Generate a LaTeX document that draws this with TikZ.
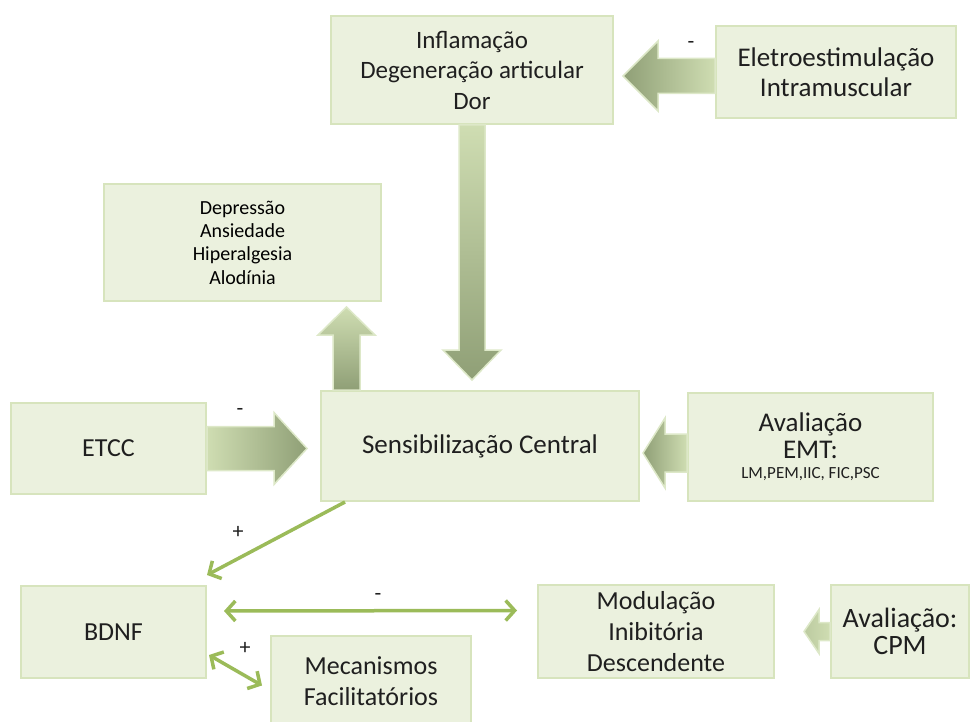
\documentclass[tikz,border=0pt]{standalone}
\usepackage{fontspec}
\setmainfont{Carlito}
\usetikzlibrary{arrows.meta,calc}
\definecolor{boxfill}{HTML}{EBF1DE}
\definecolor{boxline}{HTML}{D7E4BD}
\definecolor{arrdark}{HTML}{8F9F76}
\definecolor{arrlight}{HTML}{CFDDB2}
\definecolor{arredge}{HTML}{DDE8C8}
\definecolor{thingreen}{HTML}{9BBB59}
\begin{document}
\begin{tikzpicture}[x=1pt,y=-1pt,
  box/.style={draw=boxline, line width=2pt, fill=boxfill, anchor=north west, align=center, inner sep=0pt, font=\fontsize{26}{31}\selectfont, text=black!88},
  blk/.style={draw=arredge, line width=1.5pt, line join=miter},
  thinarr/.style={draw=thingreen, line width=3.5pt, -{Straight Barb[length=9pt,width=20pt]}},
  thinboth/.style={draw=thingreen, line width=3.5pt, {Straight Barb[length=9pt,width=20pt]}-{Straight Barb[length=9pt,width=20pt]}},
  sign/.style={font=\fontsize{22}{22}\selectfont, inner sep=0pt, text=black!88}]
\useasboundingbox (0,0) rectangle (971,722);

% boxes
\node[box, minimum width=282pt, minimum height=108pt, font=\fontsize{25}{30.5}\selectfont] (infl) at (330,15) {Inflamação\\Degeneração articular\\Dor};
\node[box, minimum width=240pt, minimum height=92pt, font=\fontsize{27}{30}\selectfont] (elet) at (715,25) {Eletroestimulação\\Intramuscular};
\node[box, minimum width=277pt, minimum height=117pt, font=\fontsize{20}{23.3}\selectfont, text=black] (dep) at (103,183) {Depressão\\Ansiedade\\Hiperalgesia\\Alodínia};
\node[box, minimum width=195pt, minimum height=91pt] (etcc) at (10,402) {ETCC};
\node[box, minimum width=318pt, minimum height=110pt, font=\fontsize{27}{31}\selectfont] (sens) at (320,390) {Sensibilização Central};
\node[box, minimum width=245pt, minimum height=108pt, font=\fontsize{27}{27}\selectfont] (emt) at (687,392) {Avaliação\\EMT:\\[-7pt]{\fontsize{17}{20}\selectfont LM,PEM,IIC, FIC,PSC}};
\node[box, minimum width=185pt, minimum height=92pt] (bdnf) at (20,585) {BDNF};
\node[box, minimum width=200pt, minimum height=90pt] (mec) at (270,635) {Mecanismos\\Facilitatórios};
\node[box, minimum width=236pt, minimum height=93pt] (mod) at (537,584) {Modulação\\Inibitória\\Descendente};
\node[box, minimum width=138pt, minimum height=93pt, font=\fontsize{28}{27}\selectfont] (cpm) at (830,584) {Avaliação:\\CPM};

% block arrows
\path[blk, left color=arrdark, right color=arrlight]
  ($(elet.west)+(0,-13.5)$) -- ++(-57,0) -- ++(0,-17.5) -- ++(-35,35) -- ++(35,35) -- ++(0,-17.5) -- ++(57,0) -- cycle;
\path[blk, top color=arrlight, bottom color=arrdark]
  ($(infl.south)+(-13,0)$) -- ++(0,225) -- ++(-16,0) -- ++(29,30) -- ++(29,-30) -- ++(-16,0) -- ++(0,-225) -- cycle;
\path[blk, top color=arrlight, bottom color=arrdark]
  ($(sens.north west)+(13,0)$) -- ++(0,-55) -- ++(-15,0) -- ++(28.5,-28) -- ++(28.5,28) -- ++(-15,0) -- ++(0,55) -- cycle;
\path[blk, left color=arrlight, right color=arrdark]
  ($(etcc.east)+(0,-22)$) -- ++(67,0) -- ++(0,-14) -- ++(33,36) -- ++(-33,36) -- ++(0,-14) -- ++(-67,0) -- cycle;
\path[blk, left color=arrdark, right color=arrlight]
  ($(emt.west)+(0,-13)$) -- ++(-22,0) -- ++(0,-16) -- ++(-22,35) -- ++(22,35) -- ++(0,-16) -- ++(22,0) -- cycle;
\path[blk, left color=arrlight!70!arrdark, right color=arrlight]
  ($(cpm.west)+(0,-9)$) -- ++(-11,0) -- ++(0,-13) -- ++(-15,22) -- ++(15,22) -- ++(0,-13) -- ++(11,0) -- cycle;

% thin arrows
\draw[thinarr] ($(sens.south west)+(25,0)$) -- ($(bdnf.north east)+(0,-10)$);
\draw[thinboth] ($(bdnf.east)+(17,-21)$) -- ($(mod.west)+(-20,-21)$);
\draw[thinboth] ($(bdnf.south east)+(2,-24)$) -- ($(mec.west)+(-8,4.5)$);

% signs
\node[sign] (s1) at (691,45) {-};
\node[sign] (s2) at (240,412) {-};
\node[sign] (s3) at (238,532) {+};
\node[sign] (s4) at (378,597) {-};
\node[sign] (s5) at (245,648) {+};
\end{tikzpicture}
\end{document}
